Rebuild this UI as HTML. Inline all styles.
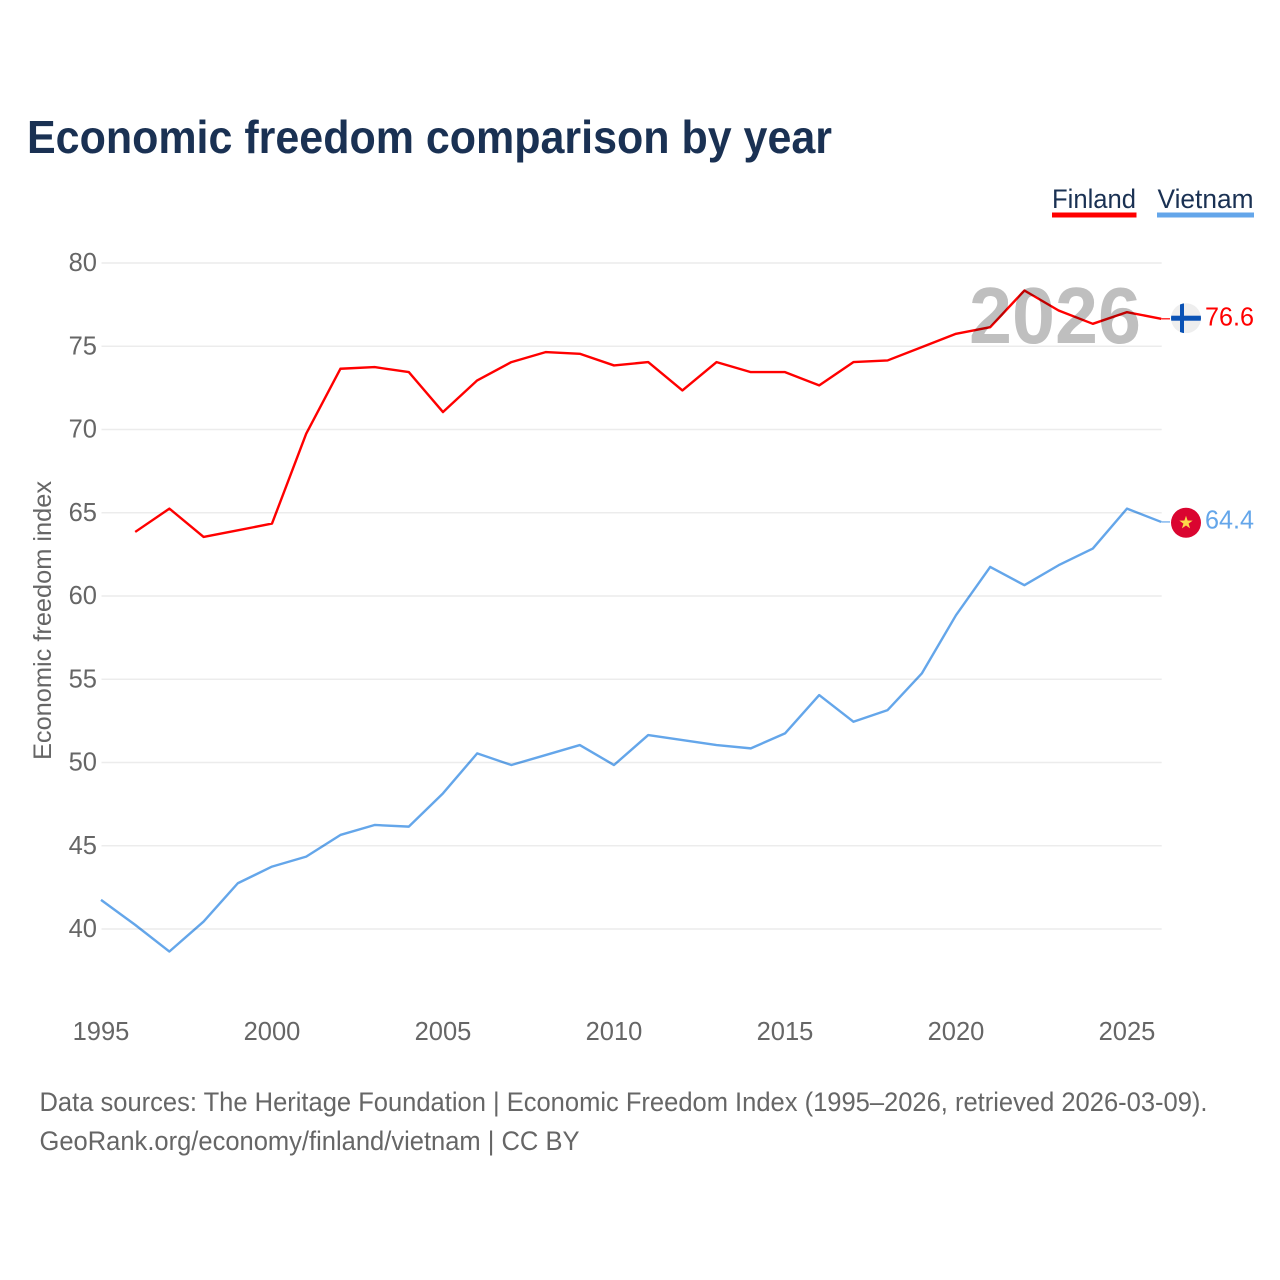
<!DOCTYPE html>
<html lang="en">
<head>
<meta charset="utf-8">
<title>Economic freedom comparison by year</title>
<style>
  html, body { margin: 0; padding: 0; background: #fff; }
  #chart { display: block; font-family: "Liberation Sans", sans-serif; }
  .line { fill: none; stroke-width: 2.4; stroke-linejoin: round; mix-blend-mode: multiply; }
</style>
</head>
<body>
<svg id="chart" width="1280" height="1280" viewBox="0 0 1280 1280" xmlns="http://www.w3.org/2000/svg">
  <rect width="1280" height="1280" fill="#fff"/>
  <text x="27" y="153" font-size="46" font-weight="700" fill="#1a3153" textLength="805" lengthAdjust="spacingAndGlyphs">Economic freedom comparison by year</text>

  <g id="grid"></g>
  <text x="969" y="343" font-size="80" font-weight="700" fill="#bfbfbf" textLength="172" lengthAdjust="spacingAndGlyphs">2026</text>
  <g id="y-ticks"></g>
  <g id="x-ticks"></g>
  <text transform="translate(51,760) rotate(-90)" font-size="25" fill="#666" textLength="279" lengthAdjust="spacingAndGlyphs">Economic freedom index</text>
  <g id="series" transform="translate(-0.5,-0.8)"></g>

  <g>
    <text x="1052" y="208" font-size="27" fill="#1a3153" textLength="84" lengthAdjust="spacingAndGlyphs">Finland</text>
    <rect x="1052" y="212.5" width="84.5" height="5" fill="#ff0000"/>
  </g>
  <g>
    <text x="1157.5" y="208" font-size="27" fill="#1a3153" textLength="96" lengthAdjust="spacingAndGlyphs">Vietnam</text>
    <rect x="1157" y="212.5" width="97" height="5" fill="#64a6ea"/>
  </g>

  <g id="end-labels"></g>

  <text x="39.5" y="1111" font-size="26.5" fill="#666" textLength="1168" lengthAdjust="spacingAndGlyphs">Data sources: The Heritage Foundation | Economic Freedom Index (1995–2026, retrieved 2026-03-09).</text>
  <text x="39.5" y="1150" font-size="26.5" fill="#666" textLength="540" lengthAdjust="spacingAndGlyphs">GeoRank.org/economy/finland/vietnam | CC BY</text>
</svg>
<script>
const years = [1995,1996,1997,1998,1999,2000,2001,2002,2003,2004,2005,2006,2007,2008,2009,2010,2011,2012,2013,2014,2015,2016,2017,2018,2019,2020,2021,2022,2023,2024,2025,2026];
const finlandValues = [null,63.8,65.2,63.5,63.9,64.3,69.7,73.6,73.7,73.4,71.0,72.9,74.0,74.6,74.5,73.8,74.0,72.3,74.0,73.4,73.4,72.6,74.0,74.1,74.9,75.7,76.1,78.3,77.1,76.3,77.0,76.6];
const vietnamValues = [41.7,40.2,38.6,40.4,42.7,43.7,44.3,45.6,46.2,46.1,48.1,50.5,49.8,50.4,51.0,49.8,51.6,51.3,51.0,50.8,51.7,54.0,52.4,53.1,55.3,58.8,61.7,60.6,61.8,62.8,65.2,64.4];
const yTickValues = [40,45,50,55,60,65,70,75,80];
const xTickValues = [1995,2000,2005,2010,2015,2020,2025];

const NS = 'http://www.w3.org/2000/svg';
const xScale = function (year) { return 101.5 + (year - 1995) * 34.2; };
const yScale = function (value) { return 929 - (value - 40) * 16.65; };
function make(tag, parent) {
  const el = document.createElementNS(NS, tag);
  parent.appendChild(el);
  return el;
}
function setAll(el, attrs) {
  Object.keys(attrs).forEach(function (k) { el.setAttribute(k, attrs[k]); });
}

const grid = document.getElementById('grid');
const yTicks = document.getElementById('y-ticks');
yTickValues.forEach(function (v) {
  const gridline = make('line', grid);
  
  
  setAll(gridline, { x1: 101.5, x2: xScale(2026), y1: yScale(v), y2: yScale(v), stroke: '#ececec', 'stroke-width': 1.6 });
  const label = make('text', yTicks);
  
  
  setAll(label, { x: 97, y: yScale(v) + 8, 'text-anchor': 'end', 'font-size': 25.5, fill: '#666' });
  label.textContent = String(v);
});

const xTicks = document.getElementById('x-ticks');
xTickValues.forEach(function (yr) {
  const label = make('text', xTicks);
  
  
  setAll(label, { x: xScale(yr) - 0.5, y: 1040, 'text-anchor': 'middle', 'font-size': 25.5, fill: '#666' });
  label.textContent = String(yr);
});

function linePath(values) {
  let d = '';
  values.forEach(function (v, i) {
    if (v === null) return;
    d += (d ? 'L' : 'M') + xScale(years[i]).toFixed(2) + ' ' + yScale(v).toFixed(2);
  });
  return d;
}
const seriesGroup = document.getElementById('series');
const finlandLine = make('path', seriesGroup);


setAll(finlandLine, { d: linePath(finlandValues), class: 'line', stroke: '#ff0000' });
const vietnamLine = make('path', seriesGroup);


setAll(vietnamLine, { d: linePath(vietnamValues), class: 'line', stroke: '#64a6ea' });

const endLabels = document.getElementById('end-labels');
function endValueLabel(value, color, name) {
  const y = yScale(value) - 0.8;
  const link = make('line', endLabels);
  
  
  setAll(link, { x1: xScale(2026) - 0.5, x2: 1170, y1: y, y2: y, stroke: color, 'stroke-width': 1.2 });
  const text = make('text', endLabels);
  
  
  setAll(text, { x: 1205, y: y + 6.7, 'font-size': 26, fill: color, textLength: 49, lengthAdjust: 'spacingAndGlyphs' });
  text.textContent = value.toFixed(1);
  return y;
}
const finEnd = finlandValues[finlandValues.length - 1];
const vieEnd = vietnamValues[vietnamValues.length - 1];
const finY = endValueLabel(finEnd, '#ff0000', 'finland') - 0.6;
const vieY = endValueLabel(vieEnd, '#64a6ea', 'vietnam') + 0.8;

/* Finland flag */
const finClip = make('clipPath', endLabels);
finClip.setAttribute('id', 'fin-clip');
const finClipCircle = make('circle', finClip);
setAll(finClipCircle, { cx: 1186, cy: finY, r: 15 });
const finFlag = make('g', endLabels);


finFlag.setAttribute('clip-path', 'url(#fin-clip)');
const finBg = make('rect', finFlag);
setAll(finBg, { x: 1171, y: finY - 15, width: 30, height: 30, fill: '#eeeeee' });
const finH = make('rect', finFlag);
setAll(finH, { x: 1171, y: finY - 2.5, width: 30, height: 5, fill: '#0a52b5' });
const finV = make('rect', finFlag);
setAll(finV, { x: 1180, y: finY - 15, width: 4, height: 30, fill: '#0a52b5' });

/* Vietnam flag */
const vieFlag = make('g', endLabels);


const vieBg = make('circle', vieFlag);
setAll(vieBg, { cx: 1186, cy: vieY, r: 15, fill: '#da0530' });
const star = make('polygon', vieFlag);
const pts = [];
for (let i = 0; i < 10; i++) {
  const r = i % 2 ? 2.7 : 7;
  const a = -Math.PI / 2 + i * Math.PI / 5;
  pts.push((1186 + r * Math.cos(a)).toFixed(2) + ',' + (vieY + r * Math.sin(a)).toFixed(2));
}
setAll(star, { points: pts.join(' '), fill: '#fcd94a' });
</script>
</body>
</html>
